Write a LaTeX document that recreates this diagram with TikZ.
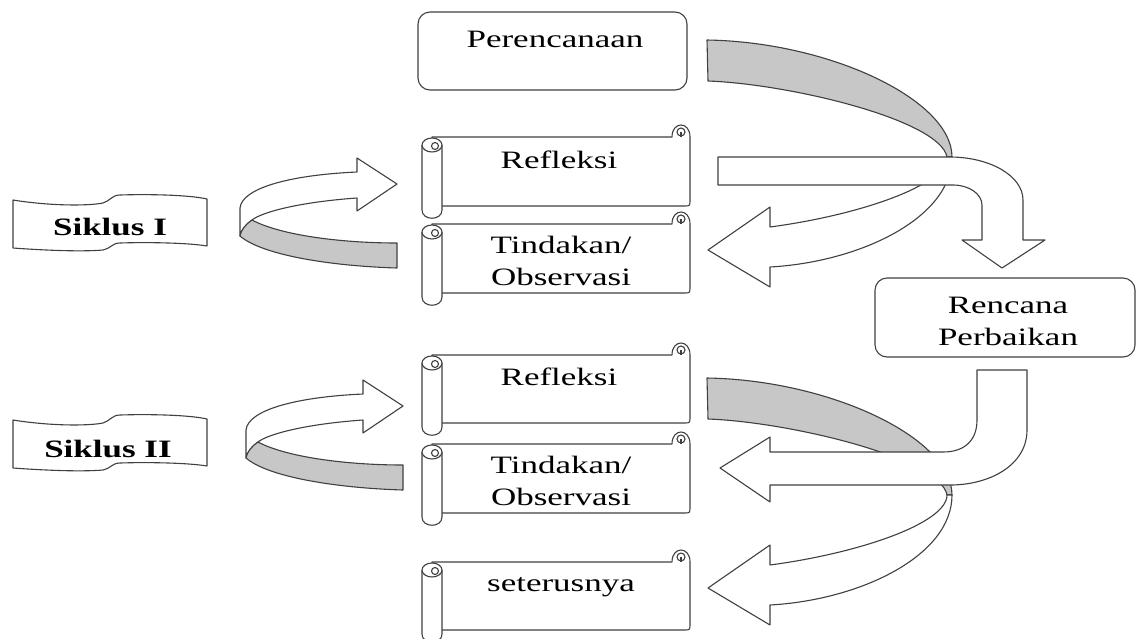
\documentclass[tikz,border=0pt]{standalone}
\usepackage{graphicx}
\usepackage{fontspec}
\setmainfont{Liberation Serif}
\newcommand\wtxt[1]{\scalebox{1.4}[1]{#1}}
\tikzset{
  ln/.style={draw=black!75, line width=1.1pt, line join=round},
  shp/.style={ln, fill=white},
  band/.style={ln, fill=black!22},
  lbl/.style={inner sep=0pt, font=\fontsize{25}{32}\selectfont},
  rbox/.style={shp, rounded corners=12pt, inner sep=0pt},
}
\newcommand\scrollshape[2]{%
  \draw[shp] (432,#1) -- (672,#1) .. controls (672,#1-16) and (690,#1-16) .. (690,#1)
    -- (690,#2-6) .. controls (690,#2) .. (684,#2) -- (432,#2) -- cycle;
  \draw[ln] (681,#1-5) circle (4);
  \draw[ln] (681,#1-5) -- (681,#1);
  \draw[shp] (422,#1+8) -- (422,#2+4) .. controls (422,#2+15) and (442,#2+15) .. (442,#2+4) -- (442,#1+8);
  \draw[shp] (432,#1+8) ellipse (10 and 7);
  \draw[ln] (435,#1+9) circle (3.5);
}
\newcommand\uarrow{%
  \draw[shp] (240,236) -- (240,208) .. controls (242,188) and (290,175) .. (357,172)
    -- (357,158) -- (397,184) -- (357,211) -- (357,198)
    .. controls (300,202) and (262,212) .. (252,220)
    .. controls (246,224) and (241,230) .. (240,236) -- cycle;
  \draw[band] (252,220) .. controls (280,235) and (340,243) .. (397,243) -- (397,268)
    .. controls (330,266) and (262,255) .. (240,236)
    .. controls (241,230) and (246,224) .. (252,220) -- cycle;
}
\newcommand\flagshape{%
  \draw[shp] (13,200) .. controls (50,206) and (88,206) .. (103,203)
    .. controls (110,201) and (112,195) .. (120,195)
    .. controls (150,194) and (190,195) .. (207,199) -- (207,246)
    .. controls (190,243) and (150,242) .. (120,243)
    .. controls (112,243) and (110,249) .. (103,250)
    .. controls (80,252) and (40,250) .. (13,248) -- cycle;
}
\newcommand\bigcurve{%
  \draw[band] (707,40) .. controls (830,42) and (952,100) .. (952,157) -- (947,157)
    .. controls (940,120) and (790,84) .. (708,81) -- cycle;
  \draw[shp] (952,157) .. controls (952,218) and (860,262) .. (770,267) -- (770,287)
    -- (708,250) -- (770,207) -- (770,227) .. controls (860,215) and (947,185) .. (947,157) -- cycle;
}
\begin{document}
\begin{tikzpicture}[x=1pt,y=-1pt]
\useasboundingbox (0,0) rectangle (1138,638);

% rounded boxes
\node[rbox, minimum width=269pt, minimum height=78pt] (perbox) at (552.5,51) {};
\node[lbl, anchor=base] (per) at (555,47) {\wtxt{Perencanaan}};
\node[rbox, minimum width=260pt, minimum height=79pt] (rpbox) at (1005,317.5) {};
\node[lbl, anchor=north, align=center] (rp) at (1008,296.5) {\wtxt{Rencana}\\\wtxt{Perbaikan}};

% scrolls
\scrollshape{137}{206}
\node[lbl, anchor=base] (ref1) at (559,168) {\wtxt{Refleksi}};
\scrollshape{224}{293}
\node[lbl, anchor=north, align=center] (tin1) at (561,235.7) {\wtxt{Tindakan/}\\\wtxt{Observasi}};
\scrollshape{355}{423}
\node[lbl, anchor=base] (ref2) at (559,385) {\wtxt{Refleksi}};
\scrollshape{444}{513}
\node[lbl, anchor=north, align=center] (tin2) at (561,455.7) {\wtxt{Tindakan/}\\\wtxt{Observasi}};
\scrollshape{562}{630}
\node[lbl, anchor=base] (ster) at (561,591) {\wtxt{seterusnya}};

% big curved arrows, cycle I
\bigcurve
\draw[shp] (718,157) -- (950,157) .. controls (990,157) and (1023,176) .. (1023,200)
  -- (1023,240) -- (1045,240) -- (1002,268) -- (962,240) -- (982,240) -- (982,205)
  .. controls (982,194) and (969,185) .. (953,185) -- (718,185) -- cycle;

% big curved arrows, cycle II
\begin{scope}[shift={(0,338)}]
\bigcurve
\end{scope}
\draw[shp] (977,370) -- (1027,370) -- (1027,430) .. controls (1027,465) and (990,485) .. (950,485)
  -- (770,485) -- (770,502) -- (720,468) -- (770,437) -- (770,452) -- (943,452)
  .. controls (965,452) and (977,440) .. (977,420) -- cycle;

% left U arrows
\uarrow
\begin{scope}[shift={(6,222)}]
\uarrow
\end{scope}

% flags
\flagshape
\node[lbl, anchor=base, font=\fontsize{25}{32}\selectfont\bfseries] (sik1) at (110,235) {\wtxt{Siklus I}};
\begin{scope}[shift={(0,220)}]
\flagshape
\end{scope}
\node[lbl, anchor=base, font=\fontsize{25}{32}\selectfont\bfseries] (sik2) at (108,457) {\wtxt{Siklus II}};
\end{tikzpicture}
\end{document}
